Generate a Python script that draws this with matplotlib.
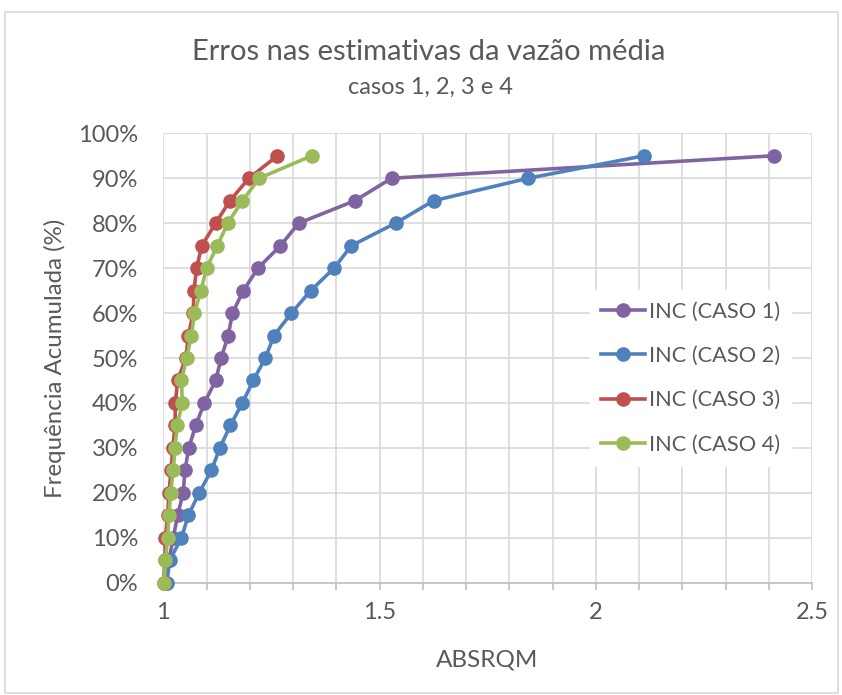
import matplotlib
matplotlib.use("Agg")
import matplotlib.pyplot as plt
from matplotlib.ticker import MultipleLocator, FuncFormatter

plt.rcParams['font.family'] = ['Lato', 'DejaVu Sans']

freq = [0, 5, 10, 15, 20, 25, 30, 35, 40, 45, 50, 55, 60, 65, 70, 75, 80, 85, 90, 95]

caso1 = [1.005, 1.013, 1.023, 1.033, 1.046, 1.050, 1.059, 1.075, 1.095, 1.121,
         1.134, 1.150, 1.160, 1.185, 1.219, 1.271, 1.313, 1.443, 1.528, 2.411]
caso2 = [1.008, 1.015, 1.042, 1.058, 1.083, 1.111, 1.131, 1.155, 1.183, 1.208,
         1.236, 1.256, 1.296, 1.341, 1.395, 1.435, 1.537, 1.625, 1.844, 2.112]
caso3 = [1.001, 1.003, 1.005, 1.010, 1.013, 1.018, 1.022, 1.027, 1.028, 1.033,
         1.052, 1.058, 1.069, 1.071, 1.077, 1.089, 1.121, 1.154, 1.198, 1.264]
caso4 = [1.002, 1.005, 1.010, 1.013, 1.017, 1.023, 1.027, 1.032, 1.044, 1.042,
         1.054, 1.065, 1.072, 1.087, 1.100, 1.125, 1.149, 1.183, 1.222, 1.343]

labels = ["INC (CASO 1)", "INC (CASO 2)", "INC (CASO 3)", "INC (CASO 4)"]
colors = ["#8064A2", "#4F81BD", "#C0504D", "#9BBB59"]

txt = "#595959"
W, H = 842, 695

fig = plt.figure(figsize=(8.42, 6.95), dpi=100)
# outer chart border
fig.patches.append(plt.Rectangle((5 / W, 2 / H), 833 / W, 681 / H,
                                 transform=fig.transFigure, fill=False,
                                 edgecolor="#D9D9D9", linewidth=1.2))

x0, x1, y0, y1 = 163.3, 812, 133.3, 582.7
ax = fig.add_axes([x0 / W, 1 - y1 / H, (x1 - x0) / W, (y1 - y0) / H])

for ys, lab, c in zip([caso1, caso2, caso3, caso4], labels, colors):
    ax.plot(ys, freq, color=c, linewidth=2.6, marker='o', markersize=9.5,
            label=lab, zorder=3, clip_on=False)

ax.set_xlim(1, 2.5)
ax.set_ylim(0, 100)
ax.xaxis.set_major_locator(MultipleLocator(0.5))
ax.xaxis.set_minor_locator(MultipleLocator(0.1))
ax.yaxis.set_major_locator(MultipleLocator(10))
ax.xaxis.set_major_formatter(FuncFormatter(lambda v, p: f"{v:g}"))
ax.yaxis.set_major_formatter(FuncFormatter(lambda v, p: f"{v:.0f}%"))

ax.grid(True, which='both', axis='x', color="#D9D9D9", linewidth=1.2, zorder=0)
ax.grid(True, which='major', axis='y', color="#D9D9D9", linewidth=1.2, zorder=0)
for s in ['top', 'right', 'left']:
    ax.spines[s].set_visible(False)
ax.spines['bottom'].set_color("#BFBFBF")
ax.spines['bottom'].set_linewidth(1.2)
ax.tick_params(axis='x', which='both', direction='out', length=5, color="#BFBFBF",
               width=1.2, labelsize=17, labelcolor=txt, pad=9)
ax.tick_params(axis='y', which='both', length=0, labelsize=17, labelcolor=txt, pad=18)

ax.set_xlabel("ABSRQM", fontsize=17.5, color=txt)
ax.set_ylabel("Frequência Acumulada (%)", fontsize=17.3, color=txt)
ax.xaxis.set_label_coords(((487 - x0) / (x1 - x0)), -(660 - y1) / (y1 - y0))
ax.yaxis.set_label_coords(-(x0 - 55) / (x1 - x0), (y1 - 358) / (y1 - y0))
ax.xaxis.label.set_va('center')
ax.yaxis.label.set_va('center')

fig.text(429 / W, 1 - 52 / H, "Erros nas estimativas da vazão média", ha='center', va='center',
         fontsize=21, color=txt)
fig.text(430 / W, 1 - 87 / H, "casos 1, 2, 3 e 4", ha='center', va='center',
         fontsize=17, color=txt)

leg = ax.legend(loc='center left', bbox_to_anchor=((590 - x0) / (x1 - x0), (y1 - 378) / (y1 - y0)),
                frameon=True, fontsize=15.7, labelcolor=txt, handlelength=2.0,
                handletextpad=0.2, labelspacing=1.12, borderpad=0.5, borderaxespad=0)
leg.get_frame().set_edgecolor('white')
leg.get_frame().set_facecolor('white')
leg.get_frame().set_alpha(1)
leg.get_frame().set_boxstyle('square', pad=0)

fig.savefig("out.png", dpi=100)
